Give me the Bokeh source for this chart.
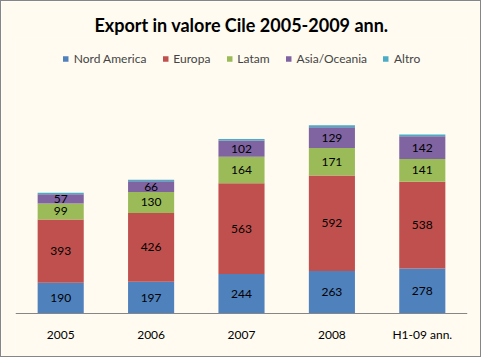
from bokeh.plotting import figure
from bokeh.models import ColumnDataSource, FactorRange, Legend, LegendItem, Range1d, LabelSet
from bokeh.core.properties import value
from bokeh.embed import file_html
from bokeh.resources import INLINE

categories = ["2005", "2006", "2007", "2008", "H1-09 ann."]
nord_america = [190, 197, 244, 263, 278]
europa = [393, 426, 563, 592, 538]
latam = [99, 130, 164, 171, 141]
asia_oceania = [57, 66, 102, 129, 142]
altro = [9, 10, 9, 12, 10]
series_names = ["Nord America", "Europa", "Latam", "Asia/Oceania", "Altro"]
colors = ["#4F81BD", "#C0504D", "#9BBB59", "#8064A2", "#4BACC6"]

keys = ["na", "eu", "la", "as", "al"]
series = [nord_america, europa, latam, asia_oceania, altro]
data = {"cat": categories}
for k, s in zip(keys, series):
    data[k] = s
src = ColumnDataSource(data)

BG = "#FFFBF0"
FONT = "Lato"

p = figure(x_range=FactorRange(*categories, range_padding=0), y_range=Range1d(-267, 1711),
           width=481, height=357, output_backend="svg", toolbar_location=None,
           min_border_left=14, min_border_right=15, min_border_top=36, min_border_bottom=2,
           background_fill_color=BG, border_fill_color=BG, outline_line_color=None)

renderers = p.vbar_stack(keys, x="cat", width=0.51, source=src, color=colors, line_color=None)

# labels
for i, k in enumerate(keys[:4]):
    bottoms = [sum(series[j][n] for j in range(i)) for n in range(len(categories))]
    mids = [b + v / 2 for b, v in zip(bottoms, series[i])]
    lsrc = ColumnDataSource(dict(cat=categories, y=mids, t=[str(v) for v in series[i]]))
    p.add_layout(LabelSet(x="cat", y="y", text="t", source=lsrc, text_align="center",
                          text_baseline="middle", text_font_size="12px", text_font=value(FONT),
                          text_color="#000000"))

legend = Legend(items=[LegendItem(label=n, renderers=[r]) for n, r in zip(series_names, renderers)],
                orientation="horizontal", location="top_center", label_text_font_size="12px",
                label_text_font=FONT, glyph_width=7, glyph_height=7, label_height=12,
                spacing=15, padding=2, margin=14, label_standoff=5, border_line_color=None,
                background_fill_alpha=0)
p.add_layout(legend, "center")

p.title.text = "Export in valore Cile 2005-2009 ann."
p.title.align = "center"
p.title.text_font = FONT
p.title.text_font_size = "18px"
p.title.text_font_style = "bold"
p.title.text_color = "#000000"
p.title.standoff = 4

p.yaxis.visible = False
p.xgrid.grid_line_color = None
p.ygrid.grid_line_color = None
p.xaxis.fixed_location = 0
p.xaxis.axis_line_color = "#868686"
p.xaxis.major_tick_line_color = None
p.xaxis.minor_tick_line_color = None
p.xaxis.major_label_standoff = 8
p.xaxis.major_label_text_font = FONT
p.xaxis.major_label_text_font_size = "12px"
p.xaxis.major_label_text_color = "#000000"
p.styles = {"border": "1px solid #868686"}

open("out.html", "w").write(file_html(p, INLINE))
